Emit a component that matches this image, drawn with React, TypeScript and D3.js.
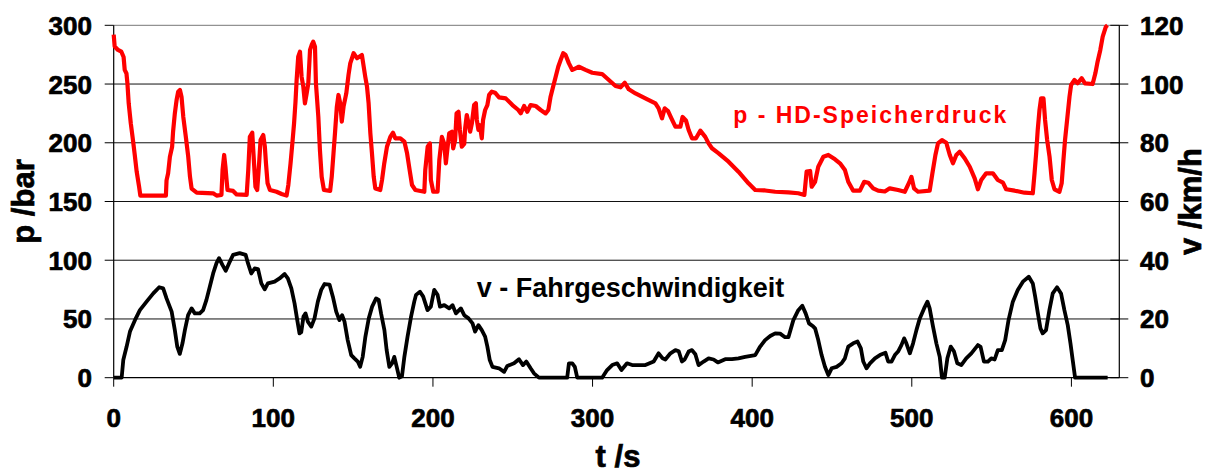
import * as d3 from 'd3';

// p - HD-Speicherdruck (bar) over t (s)
const tP: number[] = [
  0, 0.6, 2.7, 4.8, 6.2, 6.9, 8, 8.6, 9.4, 10.7, 12.1, 13.2, 14.4, 15.9, 16.7, 32.7, 33.1, 34.1, 35.2, 36.6,
  37.2, 38.3, 39.4, 40.4, 41.5, 42.5, 43.6, 45.2, 46.7, 47.8, 48.8, 52, 62.3, 64.5, 67.5, 68.2, 69.2, 70, 70.7, 71.3,
  74.8, 77, 83.3, 84.3, 85.3, 86.8, 87.8, 88.8, 89.9, 91.1, 92, 93.7, 94.7, 95.4, 96.4, 97.9, 102, 105.2, 108.3, 109.4,
  110.8, 112.1, 113, 113.9, 114.6, 115.6, 116.7, 117.7, 118.8, 119.8, 120.9, 121.9, 123, 124, 125, 126.1, 126.7, 128.2, 129.2, 130.3,
  131.7, 135.6, 136.6, 137.7, 138.7, 139.8, 140.8, 141.9, 142.9, 144, 145.7, 147.1, 148.2, 150.3, 152.4, 155.5, 157.6, 158.7, 159.7, 160.8,
  161.8, 162.9, 163.9, 167, 168.1, 169.5, 171.2, 173.3, 175, 176.4, 179.6, 182.1, 183.8, 185.4, 186.9, 189, 194.6, 195.2, 196.7, 198.1,
  198.7, 200.2, 202.9, 204, 205.6, 207.1, 208.1, 209.1, 210.2, 211.9, 212.7, 213.9, 214.8, 216, 216.9, 218.1, 219.6, 220.2, 221.2, 222.3,
  223.3, 224.4, 225.8, 226.9, 227.5, 228.5, 229.4, 230.6, 231.4, 232.7, 234.1, 235.2, 236.9, 238.9, 241.4, 245.6, 249.8, 253.5, 255, 257.1,
  259.1, 261.2, 264.4, 267.5, 270.6, 272.3, 273.7, 275.2, 276.9, 278.5, 280, 281.6, 283.1, 285.2, 287.3, 289.4, 291.4, 295.6, 299.8, 306,
  310.2, 314.4, 317.5, 320.2, 322.7, 326.9, 333.1, 339.4, 341.4, 343.5, 345.2, 347.3, 349.4, 351.9, 355, 356.4, 358.5, 360.2, 362.3, 364.8,
  367.5, 370.6, 372.7, 374.8, 379, 385.2, 391.4, 397.7, 401.9, 408.1, 414.4, 422.7, 428.9, 432.7, 434.1, 436.3, 437.3, 439.4, 441.4, 444.6,
  447.7, 451.9, 455, 458.1, 460.2, 463.3, 467.5, 470.2, 472.7, 475.8, 478.9, 483.1, 486.2, 491.4, 495.6, 498.3, 499.8, 501.4, 503.9, 511.2,
  512.9, 514.8, 516.4, 518.9, 521.6, 523.8, 525.8, 527.9, 530, 533.1, 536.3, 539.4, 541.4, 543.5, 546.6, 550.8, 553.9, 557.1, 559.1, 564.4,
  570.6, 575.8, 576.9, 577.9, 578.9, 580, 581, 582.5, 583.5, 584.8, 586.3, 587.7, 589.4, 592.5, 593.9, 595, 596, 597.3, 598.8, 599.8,
  601.9, 603.9, 606.4, 608.5, 613.3, 615, 616.4, 618.1, 619.6, 621.6, 622.6,
];
const pBar: number[] = [
  292, 282, 279, 277.5, 273, 262, 259, 250.6, 233.6, 216.6, 202, 189.6, 175.4, 162.6, 155, 155, 168, 174, 188, 196.6,
  209.4, 225, 236.4, 243.5, 245, 239, 222, 205, 188, 171, 161, 157.5, 157, 155, 155.6, 176.8, 189.6, 179.6, 168.3, 159.8,
  159, 156, 155.6, 176.8, 205, 208.6, 185.3, 162.6, 159.8, 182.5, 202.3, 206.6, 196.6, 182.5, 165.5, 159.8, 158.3, 156.4, 155, 164,
  182.5, 202.3, 216.6, 235, 253.4, 273.3, 277.5, 256.2, 247.7, 233.6, 242, 250.6, 279, 283.2, 286, 281.8, 250.6, 222, 193.8, 171,
  159.8, 159, 171, 191, 209.4, 230.7, 240.7, 233.6, 218, 230.7, 242, 257.7, 267.6, 276.2, 272, 274.7, 256.2, 247.7, 233.6, 208,
  191, 171, 161, 159.8, 168.3, 182.5, 196.6, 205, 208.6, 203.8, 203.8, 201, 191, 176.8, 164, 159.8, 158.3, 176.8, 196.6, 199.5,
  168.3, 158.3, 158.3, 185.3, 205, 199, 182.5, 195.3, 208, 209.4, 195.3, 202.3, 225, 226.4, 210.9, 196.6, 199, 212.3, 223.6, 216.6,
  209.4, 216.6, 232.1, 233.6, 219.4, 210.9, 215, 203.8, 219.4, 227.9, 232.1, 240.7, 243.5, 242.6, 238.7, 237.8, 232.1, 227.9, 225, 231.3,
  226.4, 232.1, 231.3, 227.9, 225, 227.9, 239.2, 247.2, 256.2, 264.7, 270.4, 276.2, 274.7, 267.6, 262, 263.4, 264.7, 262, 259.6, 258.5,
  253.4, 248.3, 247.2, 251.1, 245.5, 242, 237.8, 233.6, 229.3, 220.8, 229.3, 227, 220.8, 213.7, 213.7, 222, 219, 210.9, 203.8, 203.8,
  210.3, 205, 199.5, 195.3, 191, 183.9, 175.4, 165.5, 159.8, 159.4, 158.3, 157.8, 157, 155.6, 175.4, 176, 162.6, 166.8, 179.6, 188.1,
  189.6, 185.9, 182.5, 176.8, 166.8, 159.2, 159.2, 166.8, 166, 161.2, 159.2, 158.5, 161.2, 159.8, 158.3, 166, 171, 161.2, 158.3, 159.2,
  174, 189.6, 199.5, 202.3, 200, 189.6, 182.5, 189.6, 192.4, 186.8, 179.6, 169.7, 160.4, 168.3, 174, 174, 168.3, 166, 160.4, 159.2,
  157.5, 157, 174, 191, 210.9, 227.9, 237.8, 237.8, 219.4, 202.3, 188.1, 168.3, 160.4, 158.3, 165.5, 185.3, 202.3, 219.4, 239.2, 249.2,
  253.4, 250.6, 255, 250.6, 250, 259.1, 269, 279, 290.3, 298.8, 300,
];

// v - Fahrgeschwindigkeit (km/h) over t (s)
const tV: number[] = [
  0, 5, 6, 8.1, 10.2, 13.3, 16.4, 20.6, 24.8, 28.5, 31, 33.1, 36.3, 38.3, 39.8, 41.4, 43.1, 44.6, 46.6, 48.8,
  50.8, 53.9, 56, 58.1, 60.2, 62.3, 64.4, 66, 68.1, 70.2, 72.3, 74.8, 78.9, 82.7, 84.1, 86.2, 88.3, 90.4, 92.5, 94.6,
  96.6, 100.8, 103.9, 107.1, 109.1, 111.3, 113.3, 115, 116.4, 117.5, 118.9, 120.2, 121.6, 123.8, 125.8, 127.9, 130, 132.1, 135.2, 137.3,
  139.4, 141.4, 143.1, 144.6, 146.6, 148.8, 150.8, 152.9, 154.4, 156, 157.7, 159.8, 161.9, 164.4, 166, 167.5, 169.6, 171, 172.7, 174.4,
  175.8, 177.3, 178.9, 180.6, 182.1, 184.1, 186.3, 188.3, 189.4, 191.9, 193.9, 196.6, 198.7, 200.8, 202.9, 204.4, 207.1, 210.2, 212.3, 214.4,
  217.5, 219.6, 222.3, 224.8, 226.4, 228.5, 230.6, 232.7, 234.1, 235.6, 237.3, 241.4, 244.6, 246.6, 250.8, 253.9, 256.4, 258.5, 261.2, 263.3,
  266.4, 284.1, 285.2, 287.3, 288.9, 290.4, 306, 309.1, 312.3, 315.4, 318.1, 321.6, 324.8, 333.1, 338.3, 341.4, 343.9, 345.6, 348.8, 351.9,
  354, 356, 357.7, 360.2, 362.3, 364.4, 366.4, 369.6, 372.7, 375.8, 378.5, 383.1, 387.3, 391.4, 395.6, 401.9, 405, 408.1, 411.3, 414.4,
  417.5, 420.6, 422.7, 425.8, 428.9, 431.4, 433.5, 435.6, 438.3, 439.4, 441.4, 443.5, 445.6, 447.7, 449.8, 452.9, 456, 458.1, 460.2, 463.3,
  466, 468.1, 469.6, 471.6, 473.8, 476.9, 480, 483.5, 485.2, 487.3, 489.4, 491.4, 493.5, 495.2, 496.6, 498.8, 500.8, 502.9, 505, 507.7,
  509.8, 511.2, 513.3, 515.4, 517.5, 518.9, 520.6, 522.3, 524.4, 526.4, 528.5, 531, 534.1, 537.3, 541.4, 543.1, 545.2, 547.7, 549.8, 551.9,
  553.9, 556.4, 558.5, 560.6, 563.3, 566.4, 569.6, 573.3, 575.8, 577.3, 579, 580.6, 582, 584.1, 586.2, 588.3, 591, 593.5, 595.6, 597.7,
  599.4, 600.8, 602.3, 622.7,
];
const vKmh: number[] = [
  0, 0, 6, 10.6, 15.7, 19.6, 23, 25.9, 28.7, 30.8, 30.4, 27, 22.5, 16.2, 10.6, 8.1, 11.7, 16.2, 21.3, 23.6,
  21.9, 21.9, 23, 26.5, 31, 35.5, 39, 40.7, 38.4, 36.4, 39, 41.8, 42.4, 41.8, 39, 35.5, 37.2, 37, 32.1, 30.1,
  32.1, 32.7, 33.8, 35.3, 33.8, 30.4, 25.3, 19.6, 15.1, 15.5, 20.8, 21.9, 19.1, 17.4, 20.2, 25.9, 29.9, 31.9, 31.7, 27.6,
  22.5, 19.6, 21.3, 19.1, 12.8, 7.7, 6.6, 5.5, 3.7, 7.1, 14, 20.2, 24.2, 27, 26.5, 21.9, 16.2, 9.4, 3.7, 4.9,
  7.1, 3.7, 0, 0.5, 7.1, 14, 20.8, 25.9, 28.2, 29.3, 27.6, 23, 24.2, 29.9, 28.2, 24.2, 24.7, 23.6, 24.7, 21.9,
  23.6, 21.3, 20.2, 18.5, 15.7, 17.9, 16.2, 14, 10.6, 6, 3.7, 3.2, 2, 4, 4.9, 6.3, 4.3, 5.5, 3.2, 1.5,
  0, 0, 4.9, 4.9, 3.7, 0, 0, 2.6, 4.3, 4.9, 2.6, 4.9, 4.3, 4.3, 5.5, 8.3, 6.6, 6.2, 8.3, 9.4,
  9, 5.5, 6.2, 8.9, 9.4, 8, 4.3, 5.5, 6.6, 6.2, 5.2, 6.3, 6.3, 6.6, 7.1, 7.7, 10.6, 12.8, 14.2, 15.1,
  15, 13.8, 13.8, 19.6, 23, 24.5, 21.9, 18.5, 17.4, 16.8, 12.8, 7.7, 3.7, 0.9, 3.2, 3.7, 4.9, 6.6, 10.6, 11.7,
  12.3, 10, 5.5, 3.2, 4.9, 6.6, 7.7, 8.5, 5.5, 5.5, 7.7, 8.9, 11.1, 13.4, 11.7, 8.3, 11.7, 16.2, 20.2, 23.6,
  25.9, 23.6, 17.4, 11.7, 7.1, 0, 0, 6.6, 10.6, 9, 4.9, 4.3, 6.6, 8.3, 11.1, 10.5, 5.5, 5.5, 6.6, 6.2,
  9.4, 9.4, 12.8, 19.6, 25.9, 29.9, 32.7, 34.4, 32.1, 27.6, 21.9, 16.8, 15.1, 16.2, 23, 28.7, 30.8, 28.7, 23, 17.9,
  11.7, 6, 0, 0,
];

const tTicks: number[] = [0, 100, 200, 300, 400, 500, 600];
const pTicks: number[] = [0, 50, 100, 150, 200, 250, 300];
const vTicks: number[] = [0, 20, 40, 60, 80, 100, 120];

const W = 1214;
const H = 473;
const margin = { left: 113.7, right: W - 1119.3, top: 25.3, bottom: H - 377.7 };

export default function App() {
  const x = d3.scaleLinear().domain([0, 630]).range([margin.left, W - margin.right]);
  const yP = d3.scaleLinear().domain([0, 300]).range([H - margin.bottom, margin.top]);
  const yV = d3.scaleLinear().domain([0, 120]).range([H - margin.bottom, margin.top]);

  const lineP = d3.line<number>().x((d) => x(d)).y((_, i) => yP(pBar[i]));
  const lineV = d3.line<number>().x((d) => x(d)).y((_, i) => yV(vKmh[i]));

  const x0 = x(0);
  const x1 = x(630);
  const yBase = yP(0);
  const font = 'Liberation Sans, Arial, sans-serif';
  // heavier look for the bold axis texts
  const heavy = { stroke: '#000', strokeWidth: 0.7 };

  return (
    <svg width={W} height={H} style={{ position: 'absolute', left: 0, top: 0 }} fontFamily={font}>
      <rect width={W} height={H} fill="#fff" />
      {/* gridlines */}
      {pTicks.filter((d) => d > 0).map((d) => (
        <line key={'g' + d} x1={x0} x2={x1} y1={yP(d)} y2={yP(d)} stroke={d === 300 ? '#777' : '#111'} strokeWidth={1} />
      ))}
      {/* axes */}
      <line x1={x0} x2={x0} y1={yP(300)} y2={yBase} stroke="#000" strokeWidth={1.2} />
      <line x1={x1} x2={x1} y1={yP(300)} y2={yBase} stroke="#000" strokeWidth={1.2} />
      <line x1={x0} x2={x1} y1={yBase} y2={yBase} stroke="#000" strokeWidth={1.2} />
      {pTicks.map((d) => (
        <g key={'pl' + d}>
          <line x1={x0 - 9} x2={x0} y1={yP(d)} y2={yP(d)} stroke="#000" strokeWidth={1} />
          <text x={92} y={yP(d) + 9.5} textAnchor="end" fontSize={26} fontWeight="bold" {...heavy}>{d}</text>
        </g>
      ))}
      {vTicks.map((d) => (
        <g key={'vl' + d}>
          <line x1={x1 - 9} x2={x1 + 9} y1={yV(d)} y2={yV(d)} stroke="#000" strokeWidth={1} />
          <text x={1140} y={yV(d) + 9.5} textAnchor="start" fontSize={26} fontWeight="bold" {...heavy}>{d}</text>
        </g>
      ))}
      {tTicks.map((d) => (
        <g key={'tl' + d}>
          <line x1={x(d)} x2={x(d)} y1={yBase} y2={yBase + 9} stroke="#000" strokeWidth={1} />
          <text x={x(d)} y={427} textAnchor="middle" fontSize={26} fontWeight="bold" {...heavy}>{d}</text>
        </g>
      ))}
      {/* axis titles */}
      <text transform={`translate(33.5, ${(yP(0) + yP(300)) / 2}) rotate(-90)`} textAnchor="middle" fontSize={31} fontWeight="bold" {...heavy}>p /bar</text>
      <text transform={`translate(1200.5, ${(yV(0) + yV(120)) / 2}) rotate(-90)`} textAnchor="middle" fontSize={31} fontWeight="bold" {...heavy}>v /km/h</text>
      <text x={618} y={467} textAnchor="middle" fontSize={31} fontWeight="bold" {...heavy}>t /s</text>
      {/* series */}
      <path d={lineV(tV) || ''} fill="none" stroke="#000" strokeWidth={3.8} strokeLinejoin="round" />
      <path d={lineP(tP) || ''} fill="none" stroke="#ff0000" strokeWidth={4.2} strokeLinejoin="round" />
      {/* series labels */}
      <text x={733.3} y={123.3} fontSize={23} fontWeight="bold" fill="#ff0000" textLength={273} lengthAdjust="spacing">p - HD-Speicherdruck</text>
      <text x={476.7} y={297.3} fontSize={27} fontWeight="bold" fill="#000">v - Fahrgeschwindigkeit</text>
    </svg>
  );
}
